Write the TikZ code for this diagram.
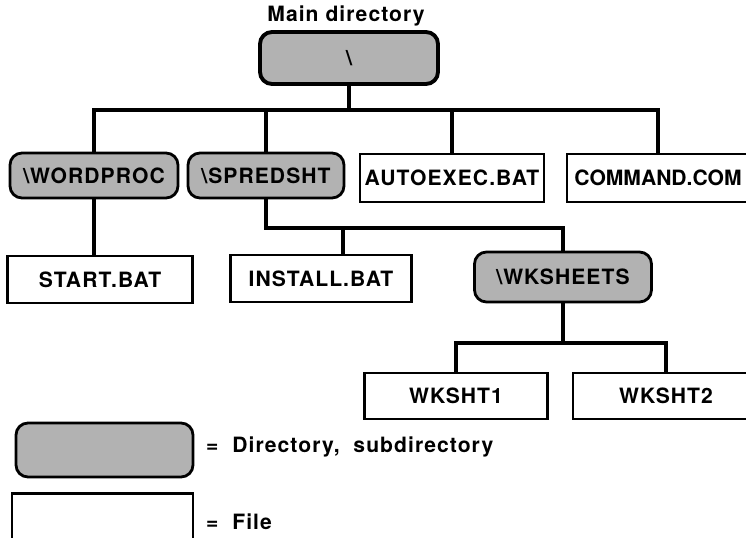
\documentclass[tikz,border=0pt]{standalone}
\usepackage{fontspec}
\setmainfont[LetterSpace=5]{TeX Gyre Heros}
\usepackage{tikz}
\usetikzlibrary{positioning}
\tikzset{
    %Define style for text
    label/.style={
           font=\fontsize{12}{14}\selectfont\bfseries},
    %Define style for directory boxes
    dirbox/.style={
           rectangle,
           rounded corners=2.4mm,
           draw=black, line width=1.6pt,
           fill=black!30,
           inner sep=1pt,
           font=\fontsize{12}{14}\selectfont\bfseries,
           text centered},
    %Define style for file boxes
    filebox/.style={
           rectangle,
           draw=black, line width=1.5pt,
           fill=white,
           inner sep=1pt,
           font=\fontsize{12}{14}\selectfont\bfseries,
           text centered},
    % Define line style
    tree/.style={
           line width=2.3pt}
}
\begin{document}
\begin{tikzpicture}[x=0.2mm,y=-0.2mm]
\useasboundingbox (0,0) rectangle (746,538);

 %nodes
\node[label](title) at (346,16){Main\ directory};
\node[dirbox, line width=2.2pt, minimum width=35.6mm, minimum height=10.4mm](root) at (349,58){\textbackslash};
\node[dirbox, minimum width=33.6mm, minimum height=9mm](word) at (94,175.5){\textbackslash WORDPROC};
\node[dirbox, minimum width=31.2mm, minimum height=9mm](spred) at (266,175.5){\textbackslash SPREDSHT};
\node[filebox, minimum width=36.8mm, minimum height=9.6mm](auto) at (452,178){AUTOEXEC.BAT};
\node[filebox, minimum width=36.4mm, minimum height=9.6mm](cmd) at (658,178){\addfontfeature{LetterSpace=0}COMMAND.COM};
\node[filebox, minimum width=37mm, minimum height=9.4mm](start) at (100,279.5){START.BAT};
\node[filebox, minimum width=36.2mm, minimum height=9.4mm](install) at (321,278.5){INSTALL.BAT};
\node[dirbox, minimum width=35.4mm, minimum height=10mm](wks) at (563,277){\textbackslash WKSHEETS};
\node[filebox, minimum width=36.6mm, minimum height=9.2mm](wk1) at (456,396){WKSHT1};
\node[filebox, minimum width=37.2mm, minimum height=9.2mm](wk2) at (666,396){WKSHT2};

 %legend
\node[dirbox, minimum width=35.4mm, minimum height=10.8mm](dirkey) at (104.5,450){};
\node[label, anchor=west](dirtext) at (200,447){=\ \ Directory,\ \ subdirectory};
\node[filebox, minimum width=36.2mm, minimum height=9.4mm](filekey) at (102.5,517){};
\node[label, anchor=west](filetext) at (200,522){=\ \ File};

 %lines
\draw[tree] (root.south) -- ++(0,24) coordinate (bus);
\draw[tree] (word.north) |- (bus) -| (cmd.north);
\draw[tree] (spred.north) -- (spred.north |- bus);
\draw[tree] (auto.north) -- (auto.north |- bus);
\draw[tree] (word.south) -- (start.north -| word.south);
\draw[tree] (spred.south) -- ++(0,29) coordinate (tee) -| (wks.north);
\coordinate (instop) at ([xshift=4.4mm]install.north);
\draw[tree] (instop) -- (instop |- tee);
\draw[tree] (wks.south) -- ++(0,40) coordinate (bus2);
\draw[tree] (wk1.north) |- (bus2) -| (wk2.north);

\end{tikzpicture}
\end{document}
